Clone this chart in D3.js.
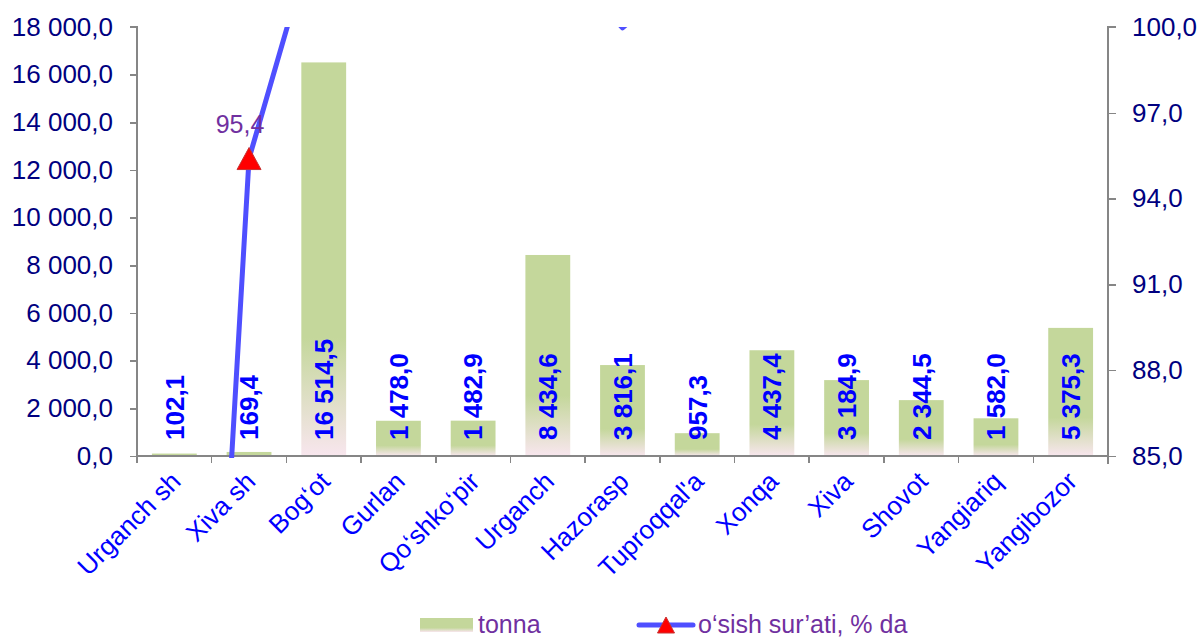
<!DOCTYPE html>
<html lang="en">
<head>
	<meta charset="UTF-8">
	<title>Chart</title>
	<script src="https://cdn.jsdelivr.net/npm/d3@7"></script>
	<style>
		body { margin: 0; background: #fff; }
		svg text { font-family: "Liberation Sans", Arial, sans-serif; }
		.axis path, .axis line { stroke: #868686; stroke-width: 1.5px; shape-rendering: crispEdges; }
		.yleft text, .yright text { fill: #000080; font-size: 26px; }
		.cat text { fill: #0000ff; font-size: 26px; }
		.barlabel { fill: #0000ff; font-size: 26px; font-weight: bold; }
		.growth { fill: none; stroke: #4f4fff; stroke-width: 5px; stroke-linejoin: round; }
		.marker { fill: #ff0000; stroke: #c83232; stroke-width: 1px; }
		.ptlabel { fill: #7030a0; font-size: 25px; }
		.legend text { fill: #7030a0; font-size: 25px; }
	</style>
</head>
<body>
<div class="wrap"></div>
<script>
	// categories and values
	var districts = ["Urganch sh", "Xiva sh", "Bog‘ot", "Gurlan", "Qo‘shko‘pir", "Urganch", "Hazorasp",
		"Tuproqqal'a", "Xonqa", "Xiva", "Shovot", "Yangiariq", "Yangibozor"];
	var tonna = [102.1, 169.4, 16514.5, 1478.0, 1482.9, 8434.6, 3816.1, 957.3, 4437.4, 3184.9, 2344.5, 1582.0, 5375.3];
	// o'sish sur'ati (most points are above the 100 limit of the axis)
	var growth = [50.5, 95.4, 104.4, 105.0, 103.5, 102.8, 99.97, 102.2, 104.0, 103.1, 102.6, 103.3, 104.5];
	var leftTicks = [0, 2000, 4000, 6000, 8000, 10000, 12000, 14000, 16000, 18000];
	var rightTicks = [85, 88, 91, 94, 97, 100];
	var seriesNames = ["tonna", "o‘sish sur’ati, % da"];

	var margin = {top: 27, right: 92, bottom: 181, left: 137},
		width = 1200 - margin.left - margin.right,
		height = 637 - margin.top - margin.bottom;

	var uz = d3.formatLocale({decimal: ",", thousands: " ", grouping: [3], currency: ["", ""]});
	var fmt = uz.format(",.1f");

	var x = d3.scaleBand().domain(districts).range([0, width]);
	var yL = d3.scaleLinear().domain([0, 18000]).range([height, 0]);
	var yR = d3.scaleLinear().domain([85, 100]).range([height, 0]);

	var svg = d3.select(".wrap").append("svg")
		.attr("width", 1200)
		.attr("height", 637);

	var defs = svg.append("defs");
	var grad = defs.append("linearGradient")
		.attr("id", "barfill")
		.attr("x1", 0).attr("y1", 0).attr("x2", 0).attr("y2", 1);
	grad.append("stop").attr("offset", "0").attr("stop-color", "#c4d79b");
	grad.append("stop").attr("offset", "0.7").attr("stop-color", "#c4d79b");
	grad.append("stop").attr("offset", "1").attr("stop-color", "#f8e6ee");

	defs.append("clipPath").attr("id", "plotclip")
		.append("rect").attr("x", 0).attr("y", 0).attr("width", width).attr("height", height + 2);

	var g = svg.append("g")
		.attr("transform", "translate(" + margin.left + "," + margin.top + ")");

	// bars
	g.selectAll("rect.bar").data(tonna).enter().append("rect")
		.attr("class", "bar")
		.attr("x", function(d, i) { return x(districts[i]) + x.bandwidth() * 0.2; })
		.attr("width", x.bandwidth() * 0.6)
		.attr("y", function(d) { return yL(d); })
		.attr("height", function(d) { return height - yL(d); })
		.attr("fill", "url(#barfill)");

	// left axis
	var axL = g.append("g").attr("class", "axis yleft")
		.call(d3.axisLeft(yL).tickValues(leftTicks).tickSize(7).tickPadding(17).tickFormat(fmt));
	axL.select(".domain").attr("d", "M-7,0H0V" + (height + 7));

	// right axis
	var axR = g.append("g").attr("class", "axis yright")
		.attr("transform", "translate(" + width + ",0)")
		.call(d3.axisRight(yR).tickValues(rightTicks).tickSize(8).tickPadding(16).tickFormat(fmt));
	axR.select(".domain").attr("d", "M8,0H0V" + (height + 8));

	// bottom axis line + boundary ticks
	var xb = g.append("g").attr("class", "axis xbottom")
		.attr("transform", "translate(0," + height + ")");
	xb.append("line").attr("x1", 0).attr("x2", width).attr("y1", 0).attr("y2", 0);
	xb.selectAll("line.tk").data(districts.slice(1)).enter().append("line")
		.attr("class", "tk")
		.attr("x1", function(d) { return x(d); })
		.attr("x2", function(d) { return x(d); })
		.attr("y1", 0).attr("y2", 7);

	// category labels
	var cat = g.append("g").attr("class", "cat");
	cat.selectAll("text").data(districts).enter().append("text")
		.attr("text-anchor", "end")
		.attr("transform", function(d) {
			return "translate(" + (x(d) + x.bandwidth() / 2 + 8) + "," + (height + 27) + ") rotate(-45)";
		})
		.text(function(d) { return d; });

	// bar value labels
	g.selectAll("text.barlabel").data(tonna).enter().append("text")
		.attr("class", "barlabel")
		.attr("transform", function(d, i) {
			return "translate(" + (x(districts[i]) + x.bandwidth() / 2) + "," + (height - 16) + ") rotate(-90)";
		})
		.attr("dy", "0.36em")
		.text(function(d) { return fmt(d); });

	// growth line
	var valline = d3.line()
		.x(function(d, i) { return x(districts[i]) + x.bandwidth() / 2; })
		.y(function(d) { return yR(d); });

	var plot = g.append("g").attr("clip-path", "url(#plotclip)");
	plot.append("path")
		.datum(growth)
		.attr("class", "growth")
		.attr("d", valline);

	function tri(w, h) {
		return "M0," + (-h / 2) + "L" + (w / 2) + "," + (h / 2) + "L" + (-w / 2) + "," + (h / 2) + "Z";
	}

	// only markers lying fully inside the plot are drawn
	var inRange = growth.map(function(d, i) { return {v: d, i: i}; })
		.filter(function(p) { return yR(p.v) - 11 >= 0 && yR(p.v) <= height; });

	plot.selectAll("path.marker").data(inRange).enter().append("path")
		.attr("class", "marker")
		.attr("d", tri(24, 22))
		.attr("transform", function(p) {
			return "translate(" + (x(districts[p.i]) + x.bandwidth() / 2) + "," + yR(p.v) + ")";
		});

	g.selectAll("text.ptlabel").data(inRange).enter().append("text")
		.attr("class", "ptlabel")
		.attr("text-anchor", "middle")
		.attr("x", function(p) { return x(districts[p.i]) + x.bandwidth() / 2 - 9; })
		.attr("y", function(p) { return yR(p.v) - 26; })
		.text(function(p) { return fmt(p.v); });

	// legend
	var legend = svg.append("g").attr("class", "legend");
	var l1 = legend.append("g").attr("transform", "translate(420,618)");
	l1.append("rect").attr("width", 53).attr("height", 14).attr("fill", "url(#barfill)");
	l1.append("text").attr("x", 58).attr("y", 15).text(seriesNames[0]);

	var l2 = legend.append("g").attr("transform", "translate(639,625)");
	l2.append("line").attr("x1", 0).attr("x2", 54).attr("y1", 0).attr("y2", 0)
		.attr("stroke", "#4f4fff").attr("stroke-width", 5).attr("stroke-linecap", "round");
	l2.append("path").attr("class", "marker").attr("d", tri(17, 16)).attr("transform", "translate(27,0)");
	l2.append("text").attr("x", 59).attr("y", 8).text(seriesNames[1]);
</script>
</body>
</html>
